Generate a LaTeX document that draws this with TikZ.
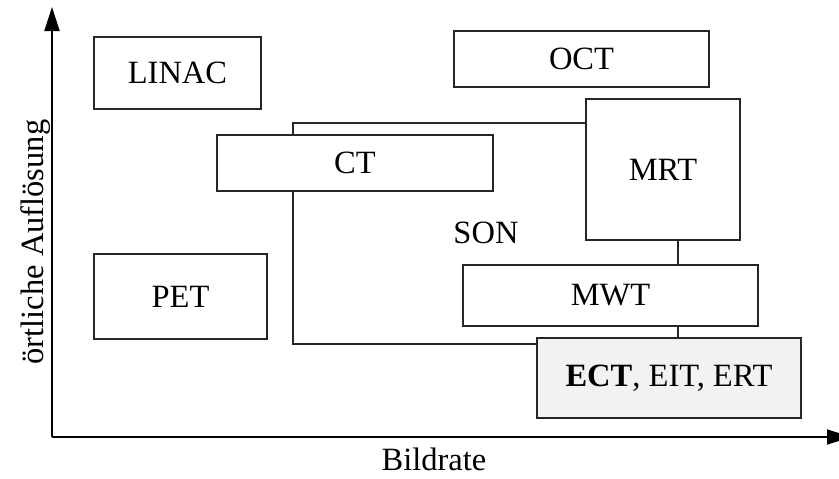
\documentclass[tikz,border=0pt]{standalone}
\usepackage{fontspec}
\setmainfont{Liberation Serif}
\usetikzlibrary{arrows.meta}
\begin{document}
\begin{tikzpicture}[x=1pt,y=-1pt,
  line width=1.6pt,
  every node/.style={font=\fontsize{32.5}{38}\selectfont},
  box/.style={draw=black!85, fill=white, rectangle, inner sep=0pt},
  graybox/.style={box, fill=black!5},
  axis/.style={draw=black, line width=1.8pt, -{Triangle[length=24pt,width=15pt]}},
  axislabel/.style={inner sep=0pt},
  link/.style={draw=black!85}]
\useasboundingbox (0,0) rectangle (839,479);

% axes
\coordinate (O) at (52,437);
\coordinate (ytip) at (52,7);
\coordinate (xtip) at (851,437);
\draw[axis] (O) -- (ytip);
\draw[axis] (O) -- (xtip);
\node[axislabel, anchor=base] (xlabel) at (434,470) {Bildrate};
\node[axislabel, rotate=90] (ylabel) at (36,242) {örtliche Auflösung};

% modalities
\node[box, minimum width=167pt, minimum height=72pt] (linac) at (177.5,73) {LINAC};
\node[box, minimum width=255pt, minimum height=56pt] (oct) at (581.5,59) {OCT};
\node[box, minimum width=154pt, minimum height=141pt] (mrt) at (663,169.5) {MRT};
\node[box, minimum width=173pt, minimum height=85pt] (pet) at (180.5,296.5) {PET};
\node[box, minimum width=295pt, minimum height=61pt] (mwt) at (610.5,295.5) {MWT};
\node[graybox, minimum width=264pt, minimum height=80pt] (ect) at (669,378) {\textbf{ECT}, EIT, ERT};

% SON frame behind the CT box
\coordinate (frameL) at (293,0);
\coordinate (frameT) at (0,123);
\coordinate (frameB) at (0,344);
\draw[link] (ect.west |- frameB) -- (frameL |- frameB) -- (frameL |- frameT) -- (mrt.west |- frameT);
\node[box, minimum width=276pt, minimum height=56pt] (ct) at (355,163) {CT};
\node (son) at (486,233) {SON};

% vertical links
\coordinate (vx) at (678,0);
\draw[link] (mrt.south -| vx) -- (mwt.north -| vx);
\draw[link] (mwt.south -| vx) -- (ect.north -| vx);
\end{tikzpicture}
\end{document}
